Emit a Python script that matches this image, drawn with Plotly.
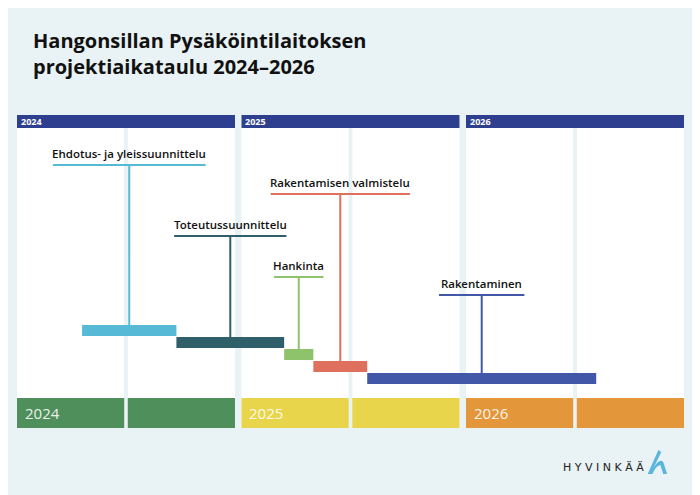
import plotly.graph_objects as go

years = [2024, 2025, 2026]
year_colors = ["#4f8f5c", "#e8d54c", "#e3973a"]

tasks = ["Ehdotus- ja yleissuunnittelu", "Toteutussuunnittelu", "Hankinta",
         "Rakentamisen valmistelu", "Rakentaminen"]
starts = [2024.29, 2024.71, 2025.19, 2025.32, 2025.56]
ends = [2024.71, 2025.19, 2025.32, 2025.56, 2026.58]
task_colors = ["#56b9d6", "#2f5f68", "#8ec36b", "#de705d", "#4257a8"]
# label row (page-pixel y units, reversed axis) and half-width of underline in years
label_y = [165, 236, 277, 194, 295]
label_half = [0.34, 0.25, 0.11, 0.31, 0.19]

BG = "#e9f2f4"
OFF = 8  # page body margin
W, H = 700 - OFF, 495 - OFF
fig = go.Figure()
shapes = []
annotations = []

for yr, col in zip(years, year_colors):
    x0, x1 = yr, yr + 0.971
    mid = yr + 0.4855
    shapes.append(dict(type="rect", xref="x", yref="y", x0=x0, x1=x1, y0=115, y1=428,
                       fillcolor="white", line_width=0, layer="below"))
    shapes.append(dict(type="rect", xref="x", yref="y", x0=x0, x1=x1, y0=115, y1=128,
                       fillcolor="#2e3f8f", line_width=0))
    shapes.append(dict(type="line", xref="x", yref="y", x0=mid, x1=mid, y0=128, y1=428,
                       line=dict(color=BG, width=4), layer="below"))
    for h0, h1 in [(x0, mid - 0.008), (mid + 0.008, x1)]:
        shapes.append(dict(type="rect", xref="x", yref="y", x0=h0, x1=h1, y0=398, y1=428,
                           fillcolor=col, line_width=0))
    annotations.append(dict(x=x0 + 0.008, y=121.5, xref="x", yref="y", text=f"<b>{yr}</b>",
                            showarrow=False, xanchor="left", yanchor="middle",
                            font=dict(size=9, color="white", family="Open Sans")))
    annotations.append(dict(x=x0 + 0.025, y=413, xref="x", yref="y", text=str(yr),
                            showarrow=False, xanchor="left", yanchor="middle",
                            font=dict(size=15, color="rgba(255,255,255,0.9)", family="Open Sans")))

for i, (name, s, e, c, ly, hw) in enumerate(zip(tasks, starts, ends, task_colors, label_y, label_half)):
    by0 = 325 + i * 12
    by1 = by0 + 11
    cx = (s + e) / 2
    shapes.append(dict(type="rect", xref="x", yref="y", x0=s, x1=e, y0=by0, y1=by1,
                       fillcolor=c, line_width=0))
    shapes.append(dict(type="line", xref="x", yref="y", x0=cx, x1=cx, y0=ly, y1=by0,
                       line=dict(color=c, width=2)))
    shapes.append(dict(type="line", xref="x", yref="y", x0=cx - hw, x1=cx + hw, y0=ly, y1=ly,
                       line=dict(color=c, width=2)))
    annotations.append(dict(x=cx, y=ly - 2, xref="x", yref="y", text=name, showarrow=False,
                            xanchor="center", yanchor="bottom",
                            font=dict(size=11.5, color="#111", family="Open Sans SemiBold, Open Sans")))

annotations.append(dict(x=22, y=25, xref="x2", yref="y", xanchor="left", yanchor="top",
                        align="left", showarrow=False,
                        text="<b>Hangonsillan Pysäköintilaitoksen<br>projektiaikataulu 2024–2026</b>",
                        font=dict(size=20, color="#111", family="Open Sans")))
annotations.append(dict(x=654, y=467, xref="x2", yref="y", xanchor="right", yanchor="middle",
                        showarrow=False, text="H Y V I N K Ä Ä",
                        font=dict(size=11, color="#222", family="DejaVu Sans")))
shapes.append(dict(type="path", xref="x2", yref="y",
                   path="M 656 474 L 667 450 L 670 452 L 662 468 Q 668 458 672 462 L 676 474 L 672 474 L 669 465 Q 664 466 661 474 Z",
                   fillcolor="#5bb6dd", line_width=0))

fig.add_trace(go.Scatter(x=[2024], y=[0], mode="markers", marker=dict(opacity=0),
                         hoverinfo="skip", showlegend=False))

fig.update_layout(
    width=W, height=H, margin=dict(l=0, r=0, t=0, b=0),
    paper_bgcolor=BG, plot_bgcolor=BG, showlegend=False,
    xaxis=dict(range=[2024, 2027], domain=[(17 - OFF) / W, (690.5 - OFF) / W],
               visible=False, fixedrange=True),
    xaxis2=dict(range=[OFF, 700], domain=[0, 1], visible=False, overlaying="x"),
    yaxis=dict(range=[495, OFF], domain=[0, 1], visible=False),
    shapes=shapes, annotations=annotations,
)
fig.write_html("out.html")
